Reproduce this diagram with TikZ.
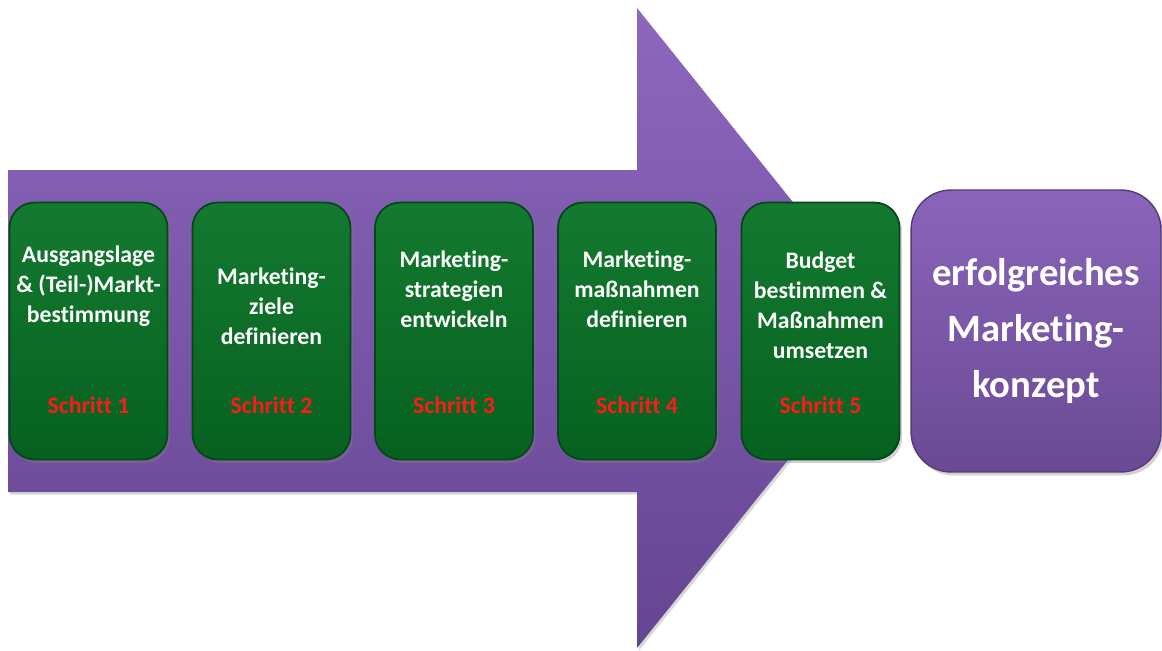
\documentclass[tikz,border=0pt]{standalone}
\usepackage{fontspec}
\setmainfont{Carlito}[Ligatures={NoCommon}]
\usepackage{tikz}
\usetikzlibrary{positioning,shadows}
\definecolor{arrowtop}{HTML}{8D67BD}
\definecolor{arrowbot}{HTML}{654592}
\definecolor{greentop}{HTML}{147A30}
\definecolor{greenbot}{HTML}{06611F}
\definecolor{greenedge}{HTML}{05461A}
\definecolor{steptag}{HTML}{FF1A1A}
\definecolor{goaltop}{HTML}{8A64BA}
\definecolor{goalbot}{HTML}{6A4A94}

\tikzset{
  stepbox/.style={draw=greenedge,line width=1pt,top color=greentop,bottom color=greenbot,
    rounded corners=0.5cm,minimum width=3.16cm,minimum height=5.14cm,
    drop shadow={opacity=0.35,shadow xshift=0.05cm,shadow yshift=-0.07cm}},
  steptext/.style={text=white,align=center,font=\bfseries\fontsize{13.5}{17}\selectfont},
  stepnum/.style={text=steptag,font=\bfseries\fontsize{13.5}{17}\selectfont},
  goalbox/.style={draw=goalbot!80!black,line width=0.8pt,top color=goaltop,bottom color=goalbot,
    rounded corners=0.8cm,minimum width=5cm,minimum height=5.64cm,text=white,align=center,
    font=\bfseries\fontsize{22}{32}\selectfont,
    drop shadow={opacity=0.35,shadow xshift=0.05cm,shadow yshift=-0.07cm}}
}

\begin{document}
\begin{tikzpicture}[x=0.02cm,y=-0.02cm]
  \useasboundingbox (0,0) rectangle (1162,650);
  \fill[white] (0,0) rectangle (1162,650);

  % big arrow in the background
  \shade[top color=arrowtop,bottom color=arrowbot,drop shadow={opacity=0.3,shadow xshift=0.04cm,shadow yshift=-0.05cm}]
    (8,170) -- (637,170) -- (637,8) -- (894,328) -- (637,648) -- (637,492) -- (8,492) -- cycle;

  \foreach \i/\xc/\ty/\txt in {
    1/88.5/286/{Ausgangslage\\\& (Teil-)Markt-\\bestimmung},
    2/271.5/306/{Marketing-\\ziele\\definieren},
    3/454/289/{Marketing-\\strategien\\entwickeln},
    4/637/289/{Marketing-\\maßnahmen\\definieren},
    5/820.5/305/{Budget\\bestimmen \&\\Maßnahmen\\umsetzen}} {
    \node[stepbox] (s\i) at (\xc,331) {};
    \node[steptext] (t\i) at (\xc,\ty) {\txt};
    \node[stepnum] (n\i) at (\xc,405) {Schritt \i};
  }

  \node[goalbox,right=0.2cm of s5] (goal) {erfolgreiches\\Marketing-\\konzept};
\end{tikzpicture}
\end{document}
